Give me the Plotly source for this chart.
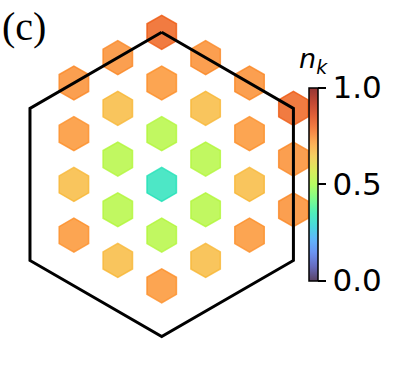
import numpy as np
import plotly.graph_objects as go
from plotly.colors import sample_colorscale, sequential

# lattice indices (along b1 = vertical, b2 = 60 deg) and occupation n_k
n1 = [3, 2, 1, 0, -1, -2,
      3, 2, 1, 0, -1,
      3, 2, 1, 0,
      2, 1, 0, -1, -2,
      1, 0, -1, -2,
      0, -1, -2]
n2 = [0, 0, 0, 0, 0, 0,
      -1, -1, -1, -1, -1,
      -2, -2, -2, -2,
      1, 1, 1, 1, 1,
      2, 2, 2, 2,
      3, 3, 3]
nk = [0.80, 0.73, 0.52, 0.33, 0.52, 0.73,
      0.74, 0.67, 0.52, 0.52, 0.67,
      0.74, 0.73, 0.67, 0.73,
      0.74, 0.67, 0.52, 0.52, 0.67,
      0.74, 0.73, 0.67, 0.73,
      0.80, 0.74, 0.74]

bz_radius = 3.0
cbar_ticks = [0.0, 0.5, 1.0]
cbar_labels = ["0.0", "0.5", "1.0"]

ALPHA = 0.8

kx = np.array(n2) * np.sqrt(3) / 2
ky = np.array(n1) + np.array(n2) / 2

ang = np.deg2rad(90 + 60 * np.arange(7))
bz_x = bz_radius * np.cos(ang)
bz_y = bz_radius * np.sin(ang)


def rgba(c, a):
    r, g, b = [float(v) for v in c[c.index("(") + 1:-1].split(",")]
    return f"rgba({r:.0f},{g:.0f},{b:.0f},{a})"


stops = np.linspace(0, 1, 41)
turbo_a = [[s, rgba(c, ALPHA)] for s, c in zip(stops, sample_colorscale(sequential.Turbo, list(stops)))]
edge_cols = [rgba(c, ALPHA) for c in sample_colorscale(sequential.Turbo, nk)]

# pixel mapping: centre of BZ at (161.7, 184.4), 50.7 px per unit
S = 50.7
L, R, T, B = 10, 300, 10, 359
PW, PH = R - L, B - T

fig = go.Figure()

fig.add_trace(go.Scatter(
    x=kx, y=ky, mode="markers", cliponaxis=False, hoverinfo="skip",
    marker=dict(symbol="hexagon", size=34, color=nk, colorscale=turbo_a, cmin=0, cmax=1,
                line=dict(color=edge_cols, width=1.5),
                showscale=True,
                colorbar=dict(
                    x=(309.5 - L) / PW, xanchor="left", y=(B - 87.5) / PH, yanchor="top",
                    xpad=0, ypad=0, thickness=9, lenmode="pixels", len=193,
                    outlinewidth=1.5, outlinecolor="black",
                    tickvals=cbar_ticks, ticktext=cbar_labels,
                    ticks="outside", ticklen=8, tickwidth=1.5, tickcolor="black",
                    tickfont=dict(family="DejaVu Sans", size=31, color="black"),
                ))))

fig.add_trace(go.Scatter(x=bz_x, y=bz_y, mode="lines", cliponaxis=False, hoverinfo="skip",
                         line=dict(color="black", width=3)))

fig.update_xaxes(range=[(L - 161.7) / S, (R - 161.7) / S], visible=False)
fig.update_yaxes(range=[(184.4 - B) / S, (184.4 - T) / S], visible=False)

fig.add_annotation(text="(c)", xref="paper", yref="paper", x=(0 - L) / PW, y=1 + (T - 2) / PH,
                   xanchor="left", yanchor="top", showarrow=False,
                   font=dict(family="Liberation Serif", size=40, color="black"))
fig.add_annotation(text="<i>n</i><sub><i>k</i></sub>", xref="paper", yref="paper",
                   x=(313 - L) / PW, y=(B - 80) / PH, xanchor="center", yanchor="bottom",
                   showarrow=False, font=dict(family="DejaVu Sans", size=27, color="black"))

fig.update_layout(
    width=407, height=369,
    margin=dict(l=L, r=407 - R, t=T, b=369 - B),
    paper_bgcolor="white", plot_bgcolor="white",
    showlegend=False,
)

fig.write_html("out.html", config={"displayModeBar": False})

# remove default page margin so the figure sits at the window origin
with open("out.html") as f:
    html = f.read()
with open("out.html", "w") as f:
    f.write(html.replace("<body>", '<body style="margin:0">', 1))
